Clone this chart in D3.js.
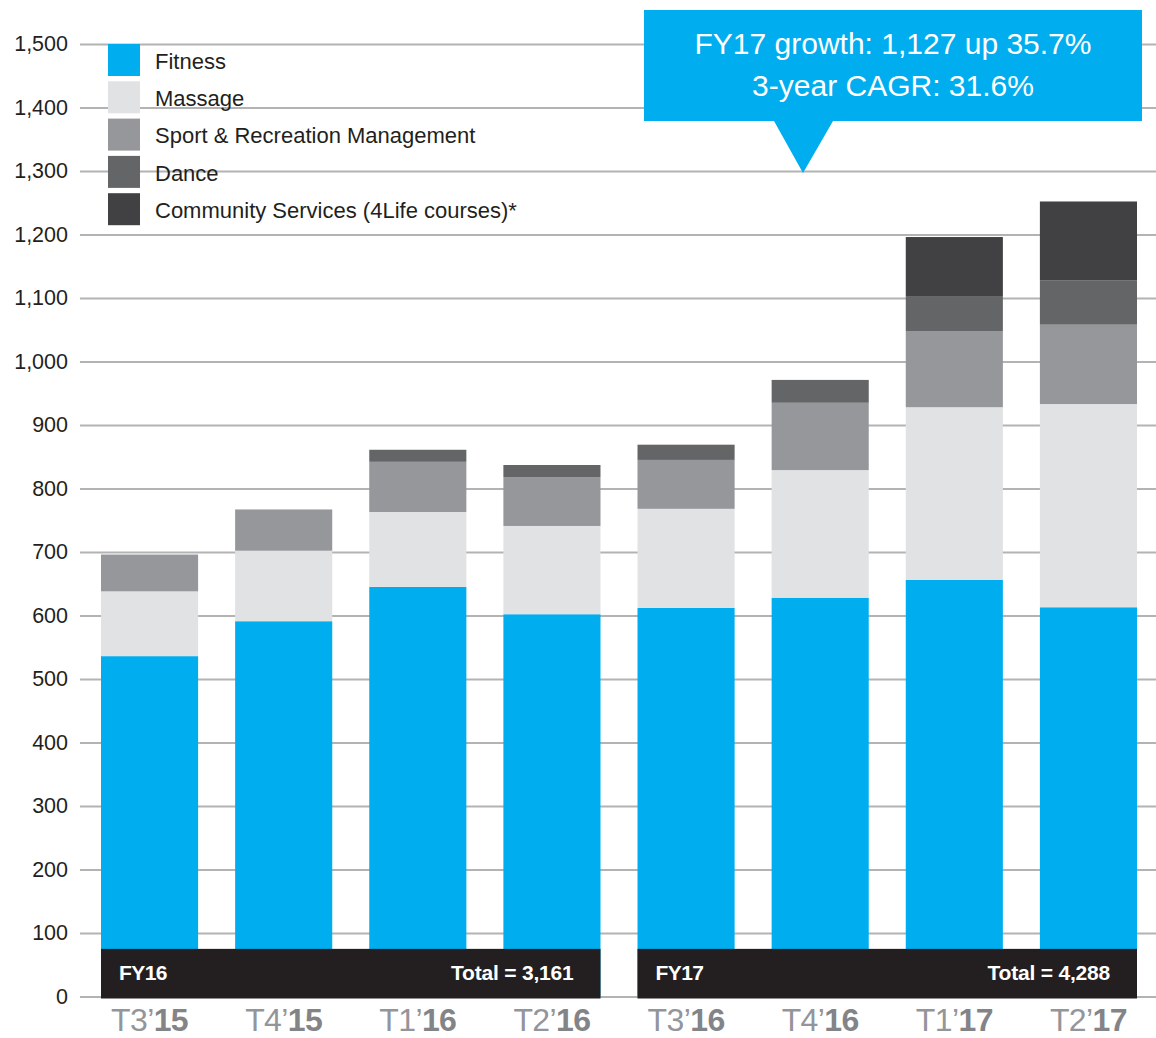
<!DOCTYPE html>
<html>
<head>
<meta charset="utf-8">
<script src="https://cdn.jsdelivr.net/npm/d3@7"></script>
<style>
  body { margin: 0; background: #fff; }
  text { font-family: "Liberation Sans", Arial, Helvetica, sans-serif; }
</style>
</head>
<body>
<div id="chart"></div>
<script>
// periods, split into term + year so the year can be bold
var terms = ["T3", "T4", "T1", "T2", "T3", "T4", "T1", "T2"];
var years = ["15", "15", "16", "16", "16", "16", "17", "17"];

// enrolments by field
var fitness   = [536, 591, 645, 602, 612, 628, 656, 613];
var massage   = [102, 111, 118, 139, 156, 201, 272, 320];
var sportRec  = [58, 65, 79, 77, 77, 106, 120, 125];
var dance     = [0, 0, 19, 19, 24, 36, 54, 70];
var community = [0, 0, 0, 0, 0, 0, 94, 124];

var seriesNames = ["Fitness", "Massage", "Sport & Recreation Management", "Dance", "Community Services (4Life courses)*"];
var seriesKeys = ["fitness", "massage", "sportRec", "dance", "community"];
var colors = ["#00aeef", "#e1e2e4", "#96979b", "#646567", "#414143"];

var yTicks = [0, 100, 200, 300, 400, 500, 600, 700, 800, 900, 1000, 1100, 1200, 1300, 1400, 1500];

// financial years: label + index of first/last period
var fyLabels = ["FY16", "FY17"];
var fyFirst = [0, 4];
var fyLast = [3, 7];
var bandTop = 75; // the black band hides the bottom of the bars

var calloutLines = ["FY17 growth: 1,127 up 35.7%", "3-year CAGR: 31.6%"];

var width = 1156, height = 1038;

var rows = terms.map(function(t, i) {
  return {
    key: i,
    fitness: fitness[i],
    massage: massage[i],
    sportRec: sportRec[i],
    dance: dance[i],
    community: community[i]
  };
});

var svg = d3.select("#chart").append("svg")
  .attr("width", width)
  .attr("height", height);

var x = d3.scaleBand()
  .domain(d3.range(terms.length))
  .range([101, 1137])
  .paddingInner(0.276)
  .paddingOuter(0);

var y = d3.scaleLinear().domain([0, 1500]).range([996.5, 44]);

// gridlines + tick labels
var yAxis = d3.axisLeft(y)
  .tickValues(yTicks)
  .tickSize(-(width - 80))
  .tickPadding(12)
  .tickFormat(d3.format(","));

svg.append("g")
  .attr("transform", "translate(80,0)")
  .call(yAxis)
  .call(function(g) {
    g.select(".domain").remove();
    g.selectAll(".tick line").attr("stroke", "#b3b3b3").attr("stroke-width", 2);
    g.selectAll(".tick text")
      .attr("fill", "#231f20")
      .style("font-size", "21.5px")
      .attr("font-family", null);
  });

// stacked bars
var stack = d3.stack().keys(seriesKeys);
var layers = stack(rows);

svg.append("g").selectAll("g")
  .data(layers)
  .enter().append("g")
  .attr("fill", function(d, i) { return colors[i]; })
  .selectAll("rect")
  .data(function(d) { return d.filter(function(p) { return p[1] > p[0]; }); })
  .enter().append("rect")
  .attr("x", function(d) { return x(d.data.key); })
  .attr("width", x.bandwidth())
  .attr("y", function(d) { return y(d[1]); })
  .attr("height", function(d) { return y(d[0]) - y(d[1]); });

// FY bands with totals
var totals = rows.map(function(r) { return d3.sum(seriesKeys, function(k) { return r[k]; }); });

fyLabels.forEach(function(label, i) {
  var x0 = x(fyFirst[i]);
  var x1 = x(fyLast[i]) + x.bandwidth();
  var total = d3.sum(totals.slice(fyFirst[i], fyLast[i] + 1));
  var g = svg.append("g");
  g.append("rect")
    .attr("x", x0)
    .attr("y", y(bandTop))
    .attr("width", x1 - x0)
    .attr("height", y(0) - y(bandTop) + 2)
    .attr("fill", "#231f20");
  g.append("text")
    .attr("x", x0 + 18)
    .attr("y", 980)
    .attr("fill", "#fff")
    .style("font-size", "21px")
    .style("font-weight", "bold")
    .style("letter-spacing", "-0.6px")
    .text(label);
  g.append("text")
    .attr("x", x1 - 27)
    .attr("y", 980)
    .attr("text-anchor", "end")
    .attr("fill", "#fff")
    .style("font-size", "21px")
    .style("font-weight", "bold")
    .style("letter-spacing", "-0.2px")
    .text("Total = " + d3.format(",")(total));
});

// x labels
var xl = svg.append("g").selectAll("text")
  .data(terms)
  .enter().append("text")
  .attr("x", function(d, i) { return x(i) + x.bandwidth() / 2; })
  .attr("y", 1031)
  .attr("text-anchor", "middle")
  .style("font-size", "32px")
  .style("letter-spacing", "-0.6px");

xl.append("tspan")
  .attr("fill", "#94959a")
  .text(function(d) { return d + "\u2019"; });
xl.append("tspan")
  .attr("fill", "#838488")
  .style("font-weight", "bold")
  .text(function(d, i) { return years[i]; });

// legend
var legend = svg.append("g").selectAll("g")
  .data(seriesNames)
  .enter().append("g")
  .attr("transform", function(d, i) { return "translate(108," + (44 + i * 37.3) + ")"; });

legend.append("rect")
  .attr("width", 32)
  .attr("height", 32)
  .attr("fill", function(d, i) { return colors[i]; });

legend.append("text")
  .attr("x", 47)
  .attr("y", 17)
  .attr("dy", "0.35em")
  .attr("fill", "#231f20")
  .style("font-size", "22px")
  .text(function(d) { return d; });

// callout
var callout = svg.append("g");
callout.append("path")
  .attr("d", "M644,10H1142V121H833L803,173L774,121H644Z")
  .attr("fill", "#00aeef");

callout.selectAll("text")
  .data(calloutLines)
  .enter().append("text")
  .attr("x", 893)
  .attr("y", function(d, i) { return 54 + i * 42; })
  .attr("text-anchor", "middle")
  .attr("fill", "#fff")
  .style("font-size", "30px")
  .text(function(d) { return d; });
</script>
</body>
</html>
